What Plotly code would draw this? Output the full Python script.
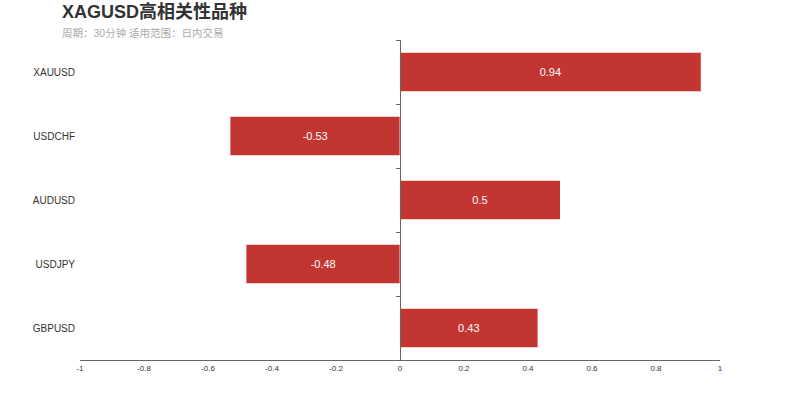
import plotly.graph_objects as go

symbols = ["XAUUSD", "USDCHF", "AUDUSD", "USDJPY", "GBPUSD"]
correlations = [0.94, -0.53, 0.5, -0.48, 0.43]
x_ticks = [-1, -0.8, -0.6, -0.4, -0.2, 0, 0.2, 0.4, 0.6, 0.8, 1]
x_tick_text = ["-1", "-0.8", "-0.6", "-0.4", "-0.2", "0", "0.2", "0.4", "0.6", "0.8", "1"]
title_text = "XAGUSD高相关性品种"
subtitle_text = "周期：30分钟 适用范围：日内交易"

FONT = "Liberation Sans, Arial, Noto Sans CJK SC, sans-serif"

fig = go.Figure()
fig.add_trace(go.Bar(
    x=correlations, y=symbols, orientation="h",
    marker=dict(color="#c23531", line=dict(width=0)),
    text=[str(v) for v in correlations],
    textposition="inside", insidetextanchor="middle",
    textfont=dict(color="#ffffff", size=11, family=FONT),
    hoverinfo="x+y",
))

fig.update_layout(
    width=800, height=400,
    margin=dict(l=80, r=80, t=40, b=40),
    paper_bgcolor="white", plot_bgcolor="white",
    bargap=0.4,
    showlegend=False,
    font=dict(family=FONT, color="#333"),
    xaxis=dict(
        range=[-1, 1], tickvals=x_ticks, ticktext=x_tick_text,
        showgrid=False, zeroline=False,
        showline=True, linecolor="#666", linewidth=1,
        ticks="outside", ticklen=0, tickcolor="#666",
        tickfont=dict(size=8, color="#333"),
    ),
    yaxis=dict(
        type="category", categoryorder="array", categoryarray=symbols,
        range=[4.5, -0.5],
        anchor="free", position=0.5,
        showline=True, linecolor="#666", linewidth=1,
        ticks="outside", tickson="boundaries", ticklen=4, tickcolor="#666",
        showticklabels=False, showgrid=False, zeroline=False,
    ),
    yaxis2=dict(
        type="category", categoryorder="array", categoryarray=symbols,
        range=[4.5, -0.5], overlaying="y", matches="y",
        anchor="free", position=0, side="left",
        showline=False, ticks="", showgrid=False, zeroline=False,
        tickvals=symbols, ticktext=symbols,
        ticklabelstandoff=5,
        tickfont=dict(size=10, color="#333"),
    ),
    annotations=[
        dict(text="<b>" + title_text + "</b>", xref="paper", yref="paper",
             x=-0.03125, y=1.09, xanchor="left", yanchor="middle", showarrow=False,
             font=dict(size=18, color="#333", family=FONT)),
        dict(text=subtitle_text, xref="paper", yref="paper",
             x=-0.03125, y=1.022, xanchor="left", yanchor="middle", showarrow=False,
             font=dict(size=10.5, color="#aaa", family=FONT)),
    ],
)

fig.add_trace(go.Bar(x=[0]*len(symbols), y=symbols, orientation="h", yaxis="y2",
                     marker=dict(color="rgba(0,0,0,0)"), hoverinfo="skip", showlegend=False))

fig.write_html("out.html",
               config={"displayModeBar": False},
               post_script="document.body.style.margin='0';document.body.style.overflow='hidden';")
